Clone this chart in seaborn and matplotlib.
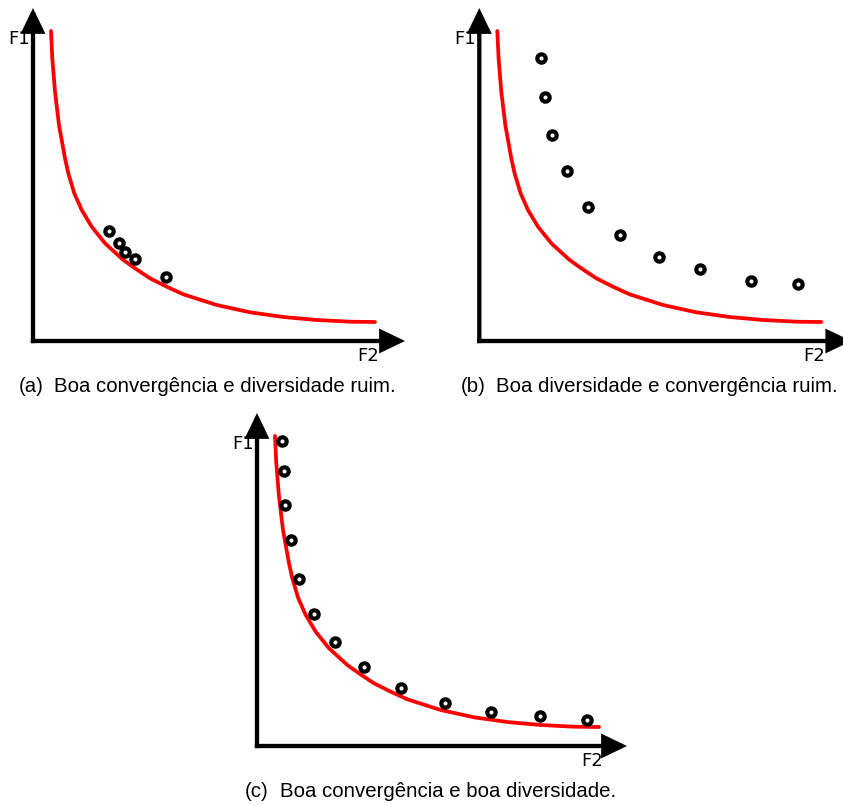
import matplotlib
matplotlib.use("Agg")
import matplotlib.pyplot as plt
import seaborn as sns
import pandas as pd

sns.set_style("white")
plt.rcParams['font.family'] = ['DejaVu Sans']
plt.rcParams['text.color'] = 'black'

# Pareto front (shared by all panels), in schematic units (F2, F1)
front_f2 = [18, 19.3, 22, 26, 32, 35.3, 41.3, 48.7, 58.7, 72, 90.3, 102, 117, 133.7,
            150.3, 183.7, 217, 250.3, 283.7, 317, 342]
front_f1 = [310, 282.7, 249.3, 216, 182.7, 167.7, 147.7, 131, 114.3, 97.7, 81, 72.7, 62.7, 54.3,
            46.7, 36, 28.7, 24, 21, 19.3, 19]

# Panel (a): good convergence, poor diversity
a_f2 = [76, 86, 92.3, 101.7, 132.7]
a_f1 = [110, 98.3, 89, 81.7, 63.7]

# Panel (b): good diversity, poor convergence
b_f2 = [61.7, 66, 73, 87.7, 109, 141, 179.7, 220.7, 271.7, 318.7]
b_f1 = [282.7, 243.7, 206.3, 170.3, 134.3, 106, 84, 71.7, 60.3, 57]

# Panel (c): good convergence and good diversity
c_f2 = [25.3, 26.6, 28.3, 33.6, 42.3, 57, 78, 106.6, 144.3, 188, 234.3, 283.3, 330.3]
c_f1 = [305, 275, 241.3, 205.7, 166.7, 132.3, 104, 78.7, 58.3, 42.7, 34.3, 29.7, 26]

captions = ["(a)", "(b)", "(c)"]
caption_texts = ["Boa convergência e diversidade ruim.",
                 "Boa diversidade e convergência ruim.",
                 "Boa convergência e boa diversidade."]
axis_x_label = "F2"
axis_y_label = "F1"

FW, FH = 843, 805
fig = plt.figure(figsize=(FW / 100, FH / 100), dpi=100)

# panel origins (pixels) and axis lengths
panels = [
    dict(ox=33, oy=341, W=372, H=333, pts=(a_f2, a_f1), cap=(19, 54, 387)),
    dict(ox=479.3, oy=341, W=372, H=333, pts=(b_f2, b_f1), cap=(461, 496, 387)),
    dict(ox=257, oy=746, W=370, H=333, pts=(c_f2, c_f1), cap=(245, 280, 791)),
]

front = pd.DataFrame({"F2": front_f2, "F1": front_f1})

for i, p in enumerate(panels):
    ax = fig.add_axes([p["ox"] / FW, (FH - p["oy"]) / FH, p["W"] / FW, p["H"] / FH])
    ax.set_xlim(0, p["W"])
    ax.set_ylim(0, p["H"])
    ax.set_axis_off()
    sns.lineplot(data=front, x="F2", y="F1", ax=ax, color="#ff0000", lw=2.7,
                 sort=False, estimator=None, clip_on=False)
    pts = pd.DataFrame({"F2": p["pts"][0], "F1": p["pts"][1]})
    sns.scatterplot(data=pts, x="F2", y="F1", ax=ax, s=36, color="white",
                    edgecolor="black", linewidth=3.0, clip_on=False, zorder=5)
    arrow = dict(arrowstyle="-|>,head_length=13.5,head_width=6.5", lw=3.1,
                 color="black", shrinkA=0, shrinkB=0, mutation_scale=1,
                 capstyle="butt", joinstyle="miter")
    half = 2.15
    ax.annotate("", xy=(1, 0), xytext=(-half / p["W"], 0), xycoords="axes fraction",
                arrowprops=arrow, annotation_clip=False)
    ax.annotate("", xy=(0, 1), xytext=(0, -half / p["H"]), xycoords="axes fraction",
                arrowprops=arrow, annotation_clip=False)
    ax.text(-3, 302, axis_y_label, ha="right", va="center", fontsize=13, color="black")
    ax.text(346, -15, axis_x_label, ha="right", va="center", fontsize=13, color="black")
    # captions
    x0, x1, yc = p["cap"]
    fig.text(x0 / FW, 1 - yc / FH, captions[i], ha="left", va="center",
             fontsize=14.7, family="Liberation Sans", color="black")
    fig.text(x1 / FW, 1 - yc / FH, caption_texts[i], ha="left", va="center",
             fontsize=14.7, family="Liberation Sans", color="black")

fig.savefig("out.png", dpi=100)
